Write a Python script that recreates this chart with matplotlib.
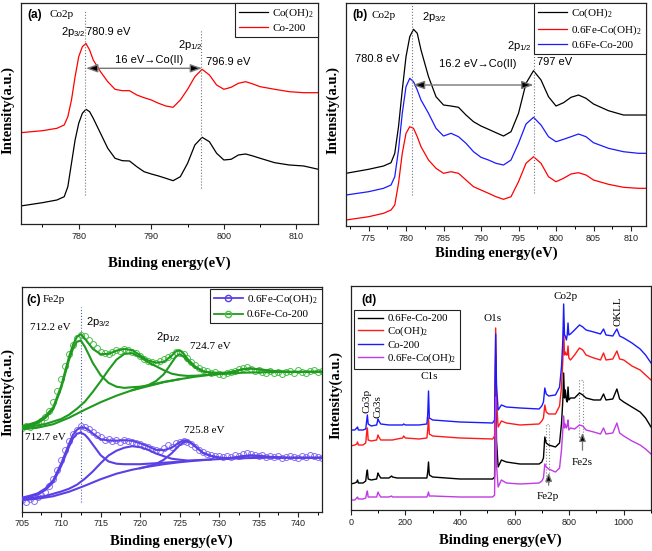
import numpy as np
import matplotlib
matplotlib.use("Agg")
import matplotlib.pyplot as plt
from matplotlib.ticker import MultipleLocator
from matplotlib.lines import Line2D
from matplotlib.patches import Rectangle

plt.rcParams['font.family'] = ['Liberation Sans', 'DejaVu Sans']
plt.rcParams['mathtext.fontset'] = 'custom'
plt.rcParams['mathtext.rm'] = 'Liberation Serif'
plt.rcParams['mathtext.sf'] = 'Liberation Sans'
plt.rcParams['mathtext.it'] = 'Liberation Serif:italic'

SERIF = 'Liberation Serif'
SANS = 'Liberation Sans'

# ---------------- Panel (a) data: Co2p ----------------
E_a = [772, 775, 777, 778, 778.5, 779, 779.5, 780, 780.5, 781, 781.5, 782, 783, 784, 785,
       786, 787, 788, 789, 790, 791, 792, 793, 794, 795, 796, 797, 798, 799, 800,
       801, 802, 803, 804, 805, 807, 809, 811, 813]
a_co200 = [91.3, 93.3, 95.7, 99, 107.3, 124, 147.3, 167.3, 177.3, 180.5, 174, 164, 152.3, 142.3, 134.7,
           133.3, 133.3, 129, 126.3, 124, 120.7, 118, 116.7, 124, 134.7, 147.3, 154.7, 149, 139, 134.7,
           136.7, 140.7, 142.3, 140, 137.3, 134.7, 132.3, 131.3, 131.3]
a_cooh = [18, 21.3, 24, 27.3, 37.3, 60.7, 84, 100.7, 110.7, 114.7, 112.3, 105.7, 90.7, 75.7, 65.7,
          63.3, 63, 57.3, 52.3, 50, 48, 45.7, 43.3, 47.3, 60.7, 79, 86.7, 82.3, 70.7, 64,
          64.7, 69, 70, 68, 65.7, 61.3, 59, 58, 54.7]
a_peaks = [780.9, 796.9]

# ---------------- Panel (b) data: Co2p ----------------
E_b = [772, 775, 777, 778, 778.5, 779, 779.5, 780, 780.5, 781, 781.5, 782, 783, 784, 785,
       786, 787, 788, 789, 790, 791, 792, 793, 794, 795, 796, 797, 798, 799, 800,
       801, 802, 803, 804, 805, 807, 809, 811, 812]
b_cooh = [52.7, 56.7, 60, 63.3, 72.7, 99.3, 136, 169.3, 189.3, 196.7, 192.7, 176, 149.3, 129.3, 121,
          120, 118.7, 111, 104.3, 100, 96.7, 93.3, 90, 94.3, 112.7, 142.7, 155.3, 146, 129.3, 120,
          123.3, 128.7, 131, 127.7, 122, 115.3, 111, 111, 111]
b_fecoh = [6, 9.3, 12.7, 16, 21, 42.7, 72.7, 92.7, 99.3, 97.7, 89.3, 79.3, 66, 57.7, 52.7,
           54.3, 52.7, 46, 39.3, 36, 32.7, 29.3, 26.7, 29.3, 44.3, 62.7, 69.3, 62.7, 49.3, 44.3,
           47.7, 52, 53.3, 51, 46, 41.7, 38.7, 37.7, 37.7]
b_feco200 = [31, 34.3, 37.7, 41, 49.3, 76, 112.7, 139.3, 147.7, 144.3, 136, 126, 112.7, 97.7, 90,
             92.7, 89.3, 82.7, 74.3, 68.7, 66, 62.7, 61, 66, 82.7, 102, 108.7, 101, 89.3, 84.3,
             86.7, 89.3, 92, 89.3, 83.3, 77.7, 74.3, 72.7, 72.7]
b_peaks = [780.8, 797]

# ---------------- Panel (c) data: Fe2p ----------------
c_pts_start, c_pts_step = 705, 0.5
c_data_green = [84, 86, 85, 87, 89, 91, 95, 101, 110, 121,
                133, 146, 158, 167, 174, 177, 176, 172, 168, 164,
                160, 159, 158, 160, 162, 161, 163, 162, 160, 159,
                156, 153, 151, 150, 149, 151, 153, 155, 157, 160,
                159, 158, 154, 150, 147, 144, 142, 141, 139, 140,
                138, 137, 139, 140, 141, 143, 144, 145, 143, 141,
                142, 140, 139, 141, 139, 140, 138, 140, 141, 139,
                142, 140, 139, 141, 142, 140, 141]
c_data_blue = [12, 10, 13, 11, 15, 17, 20, 26, 33, 42,
               52, 62, 71, 78, 82, 86, 85, 83, 80, 77,
               75, 72, 73, 71, 72, 70, 72, 71, 70, 69,
               68, 66, 65, 63, 62, 61, 64, 67, 65, 69,
               70, 71, 70, 68, 65, 62, 60, 58, 57, 56,
               56, 55, 56, 55, 57, 56, 58, 59, 58, 57,
               56, 57, 55, 56, 55, 56, 54, 55, 56, 55,
               54, 56, 55, 57, 56, 55, 54]

E_bg = [705, 707, 709, 711, 713, 715, 717, 719, 721, 723, 725, 727, 729, 731, 733, 736, 739, 743]
bg_green = [82.5, 84, 87.5, 94, 102, 109.5, 116, 121.5, 125.5, 129.5, 132.5, 135, 137, 138, 139, 139.5, 139.8, 140]
bg_blue = [11.5, 13, 15.5, 20, 26, 32.5, 38, 42, 45, 47.5, 49.5, 51, 52.2, 53, 53.5, 54, 54, 54]

E_p1 = [705, 707, 708, 709, 710, 711, 711.5, 712, 712.5, 713, 713.5, 714, 715, 716, 717, 718, 719, 720, 721, 723, 725]
p1_green = [84.5, 88.5, 93.7, 102.5, 123.7, 152, 163, 170, 171, 165, 157, 148.8, 136.5, 128.8, 125, 123.8, 124.5, 125, 126.3, 129.8, 132.5]
p1_blue = [13, 17, 21.7, 29.5, 45.7, 65, 73.5, 78, 79, 77, 72.6, 67.2, 56.5, 50.2, 48, 47.5, 47.5, 47.5, 48, 49, 50]

E_p2 = [705, 708, 710, 711, 712, 713, 714, 715, 716, 717, 718, 719, 720, 721, 722, 723, 724, 725, 726, 727, 729]
p2_green = [83.5, 87.7, 92.7, 97, 103, 110, 119.8, 130.5, 141.8, 152, 157.8, 158.5, 154.5, 149.5, 145.5, 141.5, 138, 136.5, 135.8, 136, 137]
p2_blue = [12.5, 15.7, 20.2, 23, 27, 33, 40.2, 48.5, 56.2, 61, 64, 65.5, 64.5, 62, 58.2, 55.5, 53, 52, 51.2, 51.5, 52.2]

E_p3g = [719, 721, 722, 723, 724, 724.5, 725, 725.5, 726, 727, 728, 729, 730, 732]
p3_green = [121.5, 126.5, 130.5, 137.5, 149, 154.7, 157.5, 155.2, 150.8, 144, 140, 139, 138.5, 138.5]
E_p3b = [720, 721, 722, 723, 724, 725, 725.5, 726, 726.5, 727, 728, 729, 730, 731, 733]
p3_blue = [43.5, 45.5, 47.7, 52, 58.5, 66.5, 69.4, 70.2, 68.6, 65, 58.6, 55.7, 54.1, 53.5, 53.5]

E_p4g = [729, 731, 732, 733, 734, 735, 736, 737, 739]
p4_green = [137, 139, 140.5, 142.5, 143.2, 142.4, 141.5, 140.6, 139.8]
E_p4b = [731, 732, 733, 734, 735, 736, 738]
p4_blue = [53, 54.2, 55.5, 56.2, 55.8, 55, 54]

E_env = [705, 706, 707, 708, 709, 710, 711, 711.5, 712, 712.5, 713, 713.5, 714, 715, 716, 717, 718, 719, 720, 721,
         722, 723, 724, 724.5, 725, 725.5, 726, 727, 728, 729, 730, 731, 732, 733, 734, 735, 736, 737, 739, 743]
env_green = [85.5, 87.5, 90, 95.7, 104.5, 125.7, 155, 167, 175, 177.5, 173, 168, 162.8, 157.5, 157.8, 161, 162.8, 161.5, 156.5, 151.3,
             149, 149.8, 156, 160.2, 161.5, 158.2, 152.8, 145, 140.5, 139, 139, 139, 140.5, 142.5, 143.2, 142.4, 141.5, 140.6, 139.8, 140]
env_blue = [14, 15.9, 18.3, 23.2, 31.5, 48.2, 68, 77, 82, 84.5, 84, 81.6, 78.2, 72.5, 71.2, 71, 71.5, 71, 68.5, 65.5,
            61.9, 61.5, 64, 66.8, 69.5, 71.4, 71.2, 65.5, 58.6, 55.7, 54.1, 53.5, 54.2, 55.5, 56.2, 55.8, 55, 54.5, 54, 54]
c_peak = 712.5

# ---------------- Panel (d) data: survey ----------------
E_s = [0, 15, 22, 25, 28, 45, 55, 58, 61, 64, 75, 95, 100, 103, 110, 140, 150, 153, 170, 190,
       194, 200, 250, 279, 282, 285, 288, 300, 400, 520, 527, 531, 534, 540, 552, 570, 620, 690, 700, 706,
       711, 716, 725, 750, 765, 772, 777, 780, 783, 786, 790, 793, 796, 799, 805, 820, 838, 850, 862, 890,
       915, 926, 935, 960, 975, 985, 1000, 1030, 1060, 1080, 1100]
s_feco200 = [26, 27, 28, 30, 27, 27, 29, 36, 40, 31, 30, 31, 37, 35, 32, 32, 34, 33, 32, 32,
             32, 32, 32, 32, 38, 48, 35, 33, 31, 31, 33, 155, 70, 43, 50, 48, 46, 46, 48, 52,
             73, 67, 65, 63, 67, 86, 110, 137, 112, 120, 110, 108, 123, 110, 112, 112, 117, 115, 112, 110,
             110, 116, 110, 111, 121, 111, 108, 103, 98, 92, 83]
s_cooh = [64, 65, 66, 68, 65, 65, 67, 76, 82, 70, 69, 70, 75, 73, 70, 70, 70, 70, 71, 72,
          74, 72, 71, 72, 80, 92, 76, 74, 72, 71, 74, 182, 110, 83, 89, 87, 85, 86, 89, 92,
          105, 98, 96, 96, 104, 123, 150, 183, 155, 158, 155, 155, 164, 152, 150, 155, 162, 160, 155, 152,
          150, 157, 150, 151, 159, 151, 150, 144, 140, 135, 130]
s_co200 = [80, 80, 82, 83, 80, 80, 81, 88, 95, 86, 84, 85, 91, 89, 86, 85, 85, 85, 85, 85,
           86, 85, 85, 86, 95, 119, 92, 90, 88, 87, 90, 176, 125, 100, 105, 103, 102, 101, 104, 108,
           122, 116, 114, 115, 123, 143, 170, 206, 175, 174, 170, 175, 187, 175, 176, 180, 185, 183, 180, 178,
           176, 181, 175, 174, 181, 174, 172, 167, 161, 155, 147]
s_fecoh = [10, 10, 12, 13, 11, 11, 12, 16, 19, 13, 13, 13, 18, 16, 13, 13, 14, 13, 13, 13,
           13, 13, 13, 13, 15, 18, 14, 14, 13, 13, 15, 113, 45, 23, 30, 27, 26, 27, 29, 32,
           46, 43, 41, 38, 42, 60, 80, 94, 82, 86, 82, 84, 90, 80, 82, 81, 85, 84, 80, 78,
           76, 82, 76, 77, 87, 77, 74, 69, 65, 61, 56]

# ---------------- Figure ----------------
fig = plt.figure(figsize=(6.52, 5.51), dpi=100)
axA = fig.add_axes([0.0317, 0.5935, 0.4564, 0.4016])
axB = fig.add_axes([0.5307, 0.5898, 0.4601, 0.4053])
axC = fig.add_axes([0.0333, 0.0713, 0.4601, 0.4084])
axD = fig.add_axes([0.5379, 0.0744, 0.4606, 0.4066])

def style(ax, major, minor):
    ax.xaxis.set_major_locator(MultipleLocator(major))
    ax.xaxis.set_minor_locator(MultipleLocator(minor))
    ax.set_yticks([])
    ax.tick_params(axis='x', which='major', direction='out', length=3.5, width=0.8,
                   labelsize=6.5, pad=2, colors='#222222')
    ax.tick_params(axis='x', which='minor', direction='out', length=2, width=0.7)
    for s in ax.spines.values():
        s.set_linewidth(0.9)
        s.set_color('#222222')

def leg(ax, handles=None, labels=None, loc='upper right', bbox=(1, 1), size=8, spacing=0.3, hl=2.6, **kw):
    args = [] if handles is None else [handles, labels]
    L = ax.legend(*args, loc=loc, bbox_to_anchor=bbox, borderaxespad=0, fancybox=False,
                  edgecolor='#222222', framealpha=1, prop={'family': SERIF, 'size': size},
                  handlelength=hl, borderpad=0.35, labelspacing=spacing, handletextpad=0.4, **kw)
    L.get_frame().set_linewidth(0.8)
    return L

def darrow(ax, x0, x1, y):
    ax.annotate('', xy=(x1, y), xytext=(x0, y),
                arrowprops=dict(arrowstyle='<|-|>,head_length=0.7,head_width=0.25',
                                fc='black', ec='#777777', lw=1.0, shrinkA=0, shrinkB=0))

# ---- (a)
axA.plot(E_a, a_cooh, color='black', lw=0.9, label='Co(OH)$_2$')
axA.plot(E_a, a_co200, color='#ff0000', lw=0.9, label='Co-200')
axA.set_xlim(772, 813)
axA.set_ylim(0, 221.3)
style(axA, 10, 5)
axA.axvline(a_peaks[0], ymin=0.131, ymax=0.967, color='#777777', ls=':', lw=0.8)
axA.axvline(a_peaks[1], ymin=0.163, ymax=0.881, color='#777777', ls=':', lw=0.8)
darrow(axA, 781.0, 797.0, 155.7)
leg(axA)
axA.text(772.9, 209, '(a)', fontsize=8.5, fontweight='bold', va='center', ha='left')
axA.text(776.0, 209, 'Co2p', fontsize=8, family=SERIF, va='center', ha='left')
axA.text(777.5, 192, '2p$_{\\mathsf{3/2}}$', fontsize=8, va='center', ha='left')
axA.text(781.0, 192, '780.9 eV', fontsize=8, va='center', ha='left')
axA.text(789.7, 164, '16 eV\u2192Co(II)', fontsize=8, va='center', ha='center')
axA.text(793.7, 179.3, '2p$_{\\mathsf{1/2}}$', fontsize=8, va='center', ha='left')
axA.text(797.5, 162.3, '796.9 eV', fontsize=8, va='center', ha='left')

# ---- (b)
axB.plot(E_b, b_cooh, color='black', lw=0.9, label='Co(OH)$_2$')
axB.plot(E_b, b_fecoh, color='#ff0000', lw=0.9, label='0.6Fe-Co(OH)$_2$')
axB.plot(E_b, b_feco200, color='#1a1aff', lw=0.9, label='0.6Fe-Co-200')
axB.set_xlim(772, 812)
axB.set_ylim(0, 223.3)
style(axB, 5, 2.5)
axB.axvline(b_peaks[0], ymin=0.139, ymax=0.997, color='#777777', ls=':', lw=0.8)
axB.axvline(b_peaks[1], ymin=0.149, ymax=0.869, color='#777777', ls=':', lw=0.8)
darrow(axB, 780.9, 797.0, 141)
leg(axB)
axB.text(772.8, 211, '(b)', fontsize=8.5, fontweight='bold', va='center', ha='left')
axB.text(775.4, 211, 'Co2p', fontsize=8, family=SERIF, va='center', ha='left')
axB.text(782.1, 209.3, '2p$_{\\mathsf{3/2}}$', fontsize=8, va='center', ha='left')
axB.text(776.1, 167, '780.8 eV', fontsize=8, va='center', ha='center')
axB.text(789.6, 162, '16.2 eV\u2192Co(II)', fontsize=8, va='center', ha='center')
axB.text(793.4, 180, '2p$_{\\mathsf{1/2}}$', fontsize=8, va='center', ha='left')
axB.text(797.4, 164, '797 eV', fontsize=8, va='center', ha='left')

# ---- (c)
GREEN = '#1f9a1f'
VIOLET = '#5a40e6'
E_pts = c_pts_start + c_pts_step * np.arange(len(c_data_green))
axC.plot(E_pts, c_data_green, ls='none', marker='o', ms=4.3, mfc='none', mec='#4cc04c', mew=0.7, zorder=2)
axC.plot(E_pts, c_data_blue, ls='none', marker='o', ms=4.3, mfc='none', mec='#8a70f0', mew=0.7, zorder=2)
for E_, y_, col in [(E_bg, bg_green, GREEN), (E_p1, p1_green, GREEN), (E_p2, p2_green, GREEN),
                    (E_p3g, p3_green, GREEN), (E_p4g, p4_green, GREEN), (E_env, env_green, GREEN),
                    (E_bg, bg_blue, VIOLET), (E_p1, p1_blue, VIOLET), (E_p2, p2_blue, VIOLET),
                    (E_p3b, p3_blue, VIOLET), (E_p4b, p4_blue, VIOLET), (E_env, env_blue, VIOLET)]:
    axC.plot(E_, y_, color=col, lw=1.5, zorder=3, solid_joinstyle='round')
axC.set_xlim(705, 743)
axC.set_ylim(0, 225)
style(axC, 5, 2.5)
axC.axvline(c_peak, ymin=0.044, ymax=0.911, color='#5060a0', ls=':', lw=0.8)
hC = [Line2D([], [], color=VIOLET, lw=1.3, marker='o', ms=4.5, mfc='none', mec=VIOLET),
      Line2D([], [], color=GREEN, lw=1.3, marker='o', ms=4.5, mfc='none', mec='#4cc04c')]
leg(axC, hC, ['0.6Fe-Co(OH)$_2$', '0.6Fe-Co-200'], bbox=(1, 0.99), numpoints=1)
axC.text(705.6, 211.7, '(c)', fontsize=8.5, fontweight='bold', va='center', ha='left')
axC.text(707.65, 211.7, 'Fe2p', fontsize=8, family=SERIF, va='center', ha='left')
axC.text(706.05, 184.4, '712.2 eV', fontsize=8, family=SERIF, va='center', ha='left')
axC.text(713.2, 190, '2p$_{\\mathsf{3/2}}$', fontsize=8, va='center', ha='left')
axC.text(722.0, 175, '2p$_{\\mathsf{1/2}}$', fontsize=8, va='center', ha='left')
axC.text(726.3, 165, '724.7 eV', fontsize=8, family=SERIF, va='center', ha='left')
axC.text(705.4, 74, '712.7 eV', fontsize=8, family=SERIF, va='center', ha='left')
axC.text(725.6, 81, '725.8 eV', fontsize=8, family=SERIF, va='center', ha='left')

# ---- (d)
axD.plot(E_s, s_feco200, color='black', lw=1.0, label='0.6Fe-Co-200')
axD.plot(E_s, s_cooh, color='#ff1a1a', lw=1.0, label='Co(OH)$_2$')
axD.plot(E_s, s_co200, color='#1a1aff', lw=1.0, label='Co-200')
axD.plot(E_s, s_fecoh, color='#c03ae6', lw=1.0, label='0.6Fe-Co(OH)$_2$')
axD.set_xlim(0, 1100)
axD.set_ylim(0, 224)
style(axD, 200, 100)
leg(axD, loc='upper left', bbox=(0.012, 0.893), size=7.8, spacing=0.15, hl=2.3)
axD.add_patch(Rectangle((714, 28), 14, 58, fill=False, ls=':', ec='#888888', lw=0.8))
axD.add_patch(Rectangle((838, 73), 12, 57, fill=False, ls=':', ec='#888888', lw=0.8))
axD.annotate('', xy=(725, 40), xytext=(725, 22),
             arrowprops=dict(arrowstyle='-|>,head_length=0.5,head_width=0.2', fc='black', ec='#777777', lw=0.9))
axD.annotate('', xy=(849, 80), xytext=(849, 57),
             arrowprops=dict(arrowstyle='-|>,head_length=0.5,head_width=0.2', fc='black', ec='#777777', lw=0.9))
axD.text(40, 210, '(d)', fontsize=8.5, fontweight='bold', va='center', ha='left')
axD.text(521, 191, 'O1s', fontsize=8, family=SERIF, va='center', ha='center')
axD.text(287, 133, 'C1s', fontsize=8, family=SERIF, va='center', ha='center', zorder=6)
axD.text(786, 213.3, 'Co2p', fontsize=8, family=SERIF, va='center', ha='center')
axD.text(978, 199, 'OKLL', fontsize=8, family=SERIF, va='center', ha='center', rotation=90)
axD.text(58.5, 109, 'Co3p', fontsize=8, family=SERIF, va='center', ha='center', rotation=90)
axD.text(101, 103.3, 'Co3s', fontsize=8, family=SERIF, va='center', ha='center', rotation=90)
axD.text(722, 13.3, 'Fe2p', fontsize=8, family=SERIF, va='center', ha='center')
axD.text(847, 47, 'Fe2s', fontsize=8, family=SERIF, va='center', ha='center')

# axis labels
W, H = 652.0, 551.0
for (x, y) in [(7.5, 110), (332.5, 110), (7.5, 392), (336, 395)]:
    fig.text(x / W, 1 - y / H, 'Intensity(a.u.)', rotation=90, family=SERIF, fontweight='bold',
             fontsize=10.5, ha='center', va='center')
for (x, y) in [(169.5, 263.3), (496, 253.3), (171.7, 541.7), (500.8, 540)]:
    fig.text(x / W, 1 - y / H, 'Binding energy(eV)', family=SERIF, fontweight='bold',
             fontsize=10.5, ha='center', va='center')

fig.savefig('out.png', dpi=100)
